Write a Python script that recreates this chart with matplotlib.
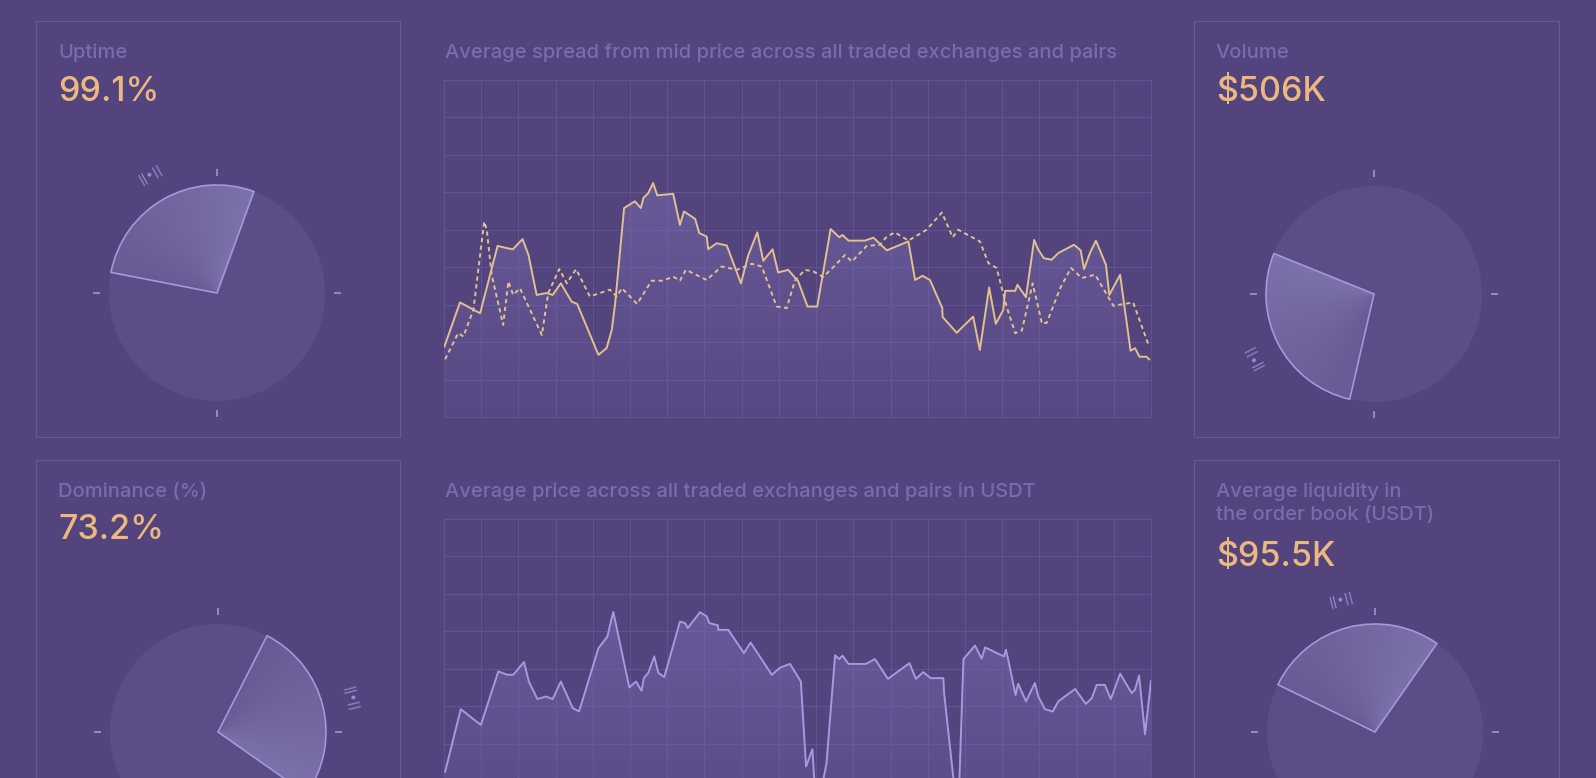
import numpy as np
import matplotlib
matplotlib.use('Agg')
import matplotlib.pyplot as plt
import matplotlib.colors as mcolors
from matplotlib.patches import Rectangle, Wedge, Circle

# ------------ DATA -------------- #
# kpi panels: top-left, top-right, bottom-left, bottom-right
panel_labels = ['Uptime', 'Volume', 'Dominance (%)', 'Average liquidity in\nthe order book (USDT)']
panel_values = ['99.1%', '$506K', '73.2%', '$95.5K']
gauge_start = [70, 158, -35, 55]     # degrees, counter clockwise from 3 o'clock
gauge_span = [99, 99, 98, 99]

spread_title = 'Average spread from mid price across all traded exchanges and pairs'
price_title = 'Average price across all traded exchanges and pairs in USDT'

# spread, solid series
spread_t = [0.01, 0.43, 0.97, 1.44, 1.69, 1.85, 2.11, 2.27, 2.49, 2.76,
            2.92, 3.14, 3.43, 3.58, 4.15, 4.37, 4.51, 4.60, 4.84, 5.13,
            5.29, 5.36, 5.49, 5.62, 5.73, 6.16, 6.34, 6.45, 6.75, 6.86,
            7.06, 7.10, 7.33, 7.60, 7.98, 8.18, 8.42, 8.58, 8.83, 8.98,
            9.25, 9.52, 9.77, 10.03, 10.39, 10.62, 10.71, 10.87, 11.31, 11.54,
            11.90, 12.48, 12.66, 12.86, 13.06, 13.39, 13.40, 13.78, 13.94, 14.22,
            14.40, 14.65, 14.83, 15.03, 15.08, 15.35, 15.41, 15.64, 15.86, 15.97,
            16.12, 16.33, 16.51, 16.93, 17.11, 17.20, 17.36, 17.52, 17.79, 17.88,
            18.17, 18.45, 18.57, 18.69, 18.88, 18.95]
spread = [1.88, 3.06, 2.77, 4.57, 4.51, 4.48, 4.75, 4.33, 3.26, 3.31,
          3.26, 3.57, 3.08, 3.02, 1.66, 1.84, 2.33, 3.04, 5.58, 5.76,
          5.58, 5.85, 5.98, 6.25, 5.92, 5.96, 5.13, 5.49, 5.29, 4.91,
          4.82, 4.48, 4.64, 4.58, 3.57, 4.33, 4.93, 4.17, 4.48, 3.86,
          3.93, 3.62, 2.95, 2.95, 5.02, 4.80, 4.86, 4.71, 4.71, 4.79,
          4.45, 4.69, 3.66, 3.77, 3.66, 2.91, 2.67, 2.25, 2.41, 2.68,
          1.79, 3.46, 2.49, 2.86, 3.37, 3.37, 3.53, 3.20, 4.73, 4.47,
          4.24, 4.20, 4.38, 4.60, 4.45, 3.95, 4.38, 4.71, 4.06, 3.26,
          3.80, 1.77, 1.84, 1.61, 1.61, 1.54]

# spread, dashed series
spread2_t = [0.03, 0.38, 0.52, 0.79, 1.08, 1.15, 1.28, 1.59, 1.73, 1.86,
             2.04, 2.63, 2.80, 3.10, 3.30, 3.55, 3.92, 4.46, 4.64, 4.78,
             5.19, 5.58, 5.89, 6.16, 6.34, 6.50, 7.06, 7.46, 7.87, 8.27,
             8.54, 8.94, 9.21, 9.43, 9.70, 9.92, 10.19, 10.46, 10.78, 10.96,
             11.36, 11.72, 11.90, 12.12, 12.48, 12.97, 13.38, 13.67, 13.82, 14.40,
             14.63, 14.85, 15.12, 15.35, 15.53, 15.82, 16.07, 16.20, 16.56, 16.85,
             17.14, 17.50, 17.99, 18.52, 18.95]
spread2 = [1.54, 2.24, 2.15, 2.86, 5.22, 5.00, 3.80, 2.46, 3.62, 3.26,
           3.44, 2.19, 3.31, 3.95, 3.57, 3.95, 3.22, 3.40, 3.22, 3.44,
           3.02, 3.64, 3.64, 3.75, 3.64, 3.93, 3.66, 4.02, 3.93, 4.09,
           4.02, 2.95, 2.91, 3.64, 3.93, 3.89, 3.74, 4.00, 4.33, 4.15,
           4.57, 4.60, 4.82, 4.93, 4.71, 5.00, 5.46, 4.80, 5.00, 4.69,
           4.11, 3.98, 2.95, 2.24, 2.31, 3.57, 2.49, 2.52, 3.44, 3.98,
           3.71, 3.80, 2.97, 3.06, 1.88]

# average price
price_t = [0.03, 0.45, 0.99, 1.46, 1.70, 1.86, 2.15, 2.28, 2.51, 2.74,
           2.92, 3.14, 3.46, 3.63, 4.15, 4.39, 4.55, 4.98, 5.16, 5.31,
           5.37, 5.49, 5.65, 5.76, 5.92, 6.34, 6.48, 6.55, 6.88, 7.06,
           7.13, 7.36, 7.37, 7.64, 8.06, 8.24, 8.81, 9.03, 9.30, 9.59,
           9.73, 9.90, 9.97, 10.15, 10.28, 10.51, 10.62, 10.71, 10.87, 11.34,
           11.58, 11.93, 12.51, 12.68, 12.88, 13.08, 13.42, 13.44, 13.73, 13.84,
           13.96, 14.27, 14.45, 14.54, 15.05, 15.10, 15.15, 15.36, 15.43, 15.64,
           15.88, 15.97, 16.15, 16.36, 16.51, 16.96, 17.25, 17.41, 17.54, 17.76,
           17.92, 18.17, 18.48, 18.57, 18.68, 18.84, 19.00]
price = [2.25, 3.92, 3.50, 4.93, 4.84, 4.84, 5.18, 4.66, 4.19, 4.26,
         4.19, 4.66, 3.95, 3.86, 5.55, 5.86, 6.52, 4.50, 4.66, 4.41,
         4.75, 4.89, 5.33, 4.89, 4.78, 6.26, 6.22, 6.09, 6.51, 6.40,
         6.22, 6.16, 6.04, 6.04, 5.42, 5.70, 4.84, 5.03, 5.13, 4.66,
         2.39, 2.85, 1.76, 1.82, 2.48, 5.36, 5.26, 5.35, 5.13, 5.13,
         5.26, 4.73, 5.15, 4.73, 4.91, 4.75, 4.75, 4.35, 1.71, 1.71,
         5.26, 5.62, 5.27, 5.57, 5.33, 5.51, 5.30, 4.30, 4.60, 4.13,
         4.62, 4.26, 3.92, 3.86, 4.13, 4.46, 4.06, 4.22, 4.57, 4.57,
         4.19, 4.87, 4.35, 4.44, 4.82, 3.25, 4.68]

# ------------ STYLE -------------- #
W, H = 1596, 778
BG = '#53447d'
BOX_EDGE = '#65589a'
GRID = '#5f5394'
LABEL = '#796cad'
VALUE = '#ebb980'
DISC = '#5b4e87'
TICK = '#9a8cd4'
WEDGE_EDGE = '#a697de'
SPREAD_C = '#e2c08f'
PRICE_C = '#a898e2'

plt.rcParams['font.family'] = ['Inter', 'DejaVu Sans']

fig = plt.figure(figsize=(W / 100, H / 100), dpi=100)
fig.patch.set_facecolor(BG)

# overlay axes in pixel units, y going up
ax0 = fig.add_axes([0, 0, 1, 1])
ax0.set_xlim(0, W)
ax0.set_ylim(0, H)
ax0.axis('off')


def Y(y):
    return H - y


# ---------- panels ------------ #
boxes = [(36, 21, 364, 416), (1194, 21, 365, 416), (36, 460, 364, 400), (1194, 460, 365, 400)]
label_pos = [(58, 58), (1216, 58), (58, 497), (1216, 497)]
value_base = [101, 101, 539, 566]
centers = [(217, 293), (1374, 294), (218, 732), (1375, 732)]
R = 108

for i in range(4):
    bx, by, bw, bh = boxes[i]
    ax0.add_patch(Rectangle((bx, Y(by + bh)), bw, bh, fill=False, edgecolor=BOX_EDGE, lw=0.8))
    lx, ly = label_pos[i]
    for k, line in enumerate(panel_labels[i].split('\n')):
        ax0.text(lx, Y(ly + 23.4 * k), line, color=LABEL, fontsize=14.5, fontweight='medium',
                 va='baseline', ha='left')
    ax0.text(lx, Y(value_base[i]), panel_values[i], color=VALUE, fontsize=24.5,
             fontweight='medium', va='baseline', ha='left')

    cx, cy = centers[i][0], Y(centers[i][1])
    ax0.add_patch(Circle((cx, cy), R, facecolor=DISC, edgecolor='none', zorder=2))

    # wedge with angular gradient (light at start -> dark at end)
    a0, span = gauge_start[i], gauge_span[i]
    wedge = Wedge((cx, cy), R, a0, a0 + span, facecolor='none', edgecolor='none', zorder=3)
    ax0.add_patch(wedge)
    gx, gy = np.meshgrid(np.linspace(-R, R, 200), np.linspace(R, -R, 200))
    ang = (np.degrees(np.arctan2(gy, gx)) - a0) % 360
    t = np.clip(ang / span, 0, 1)
    c1 = np.array(mcolors.to_rgb('#7d71a9'))
    c2 = np.array(mcolors.to_rgb('#685a93'))
    img = c1[None, None, :] * (1 - t[..., None]) + c2[None, None, :] * t[..., None]
    im = ax0.imshow(img, extent=[cx - R, cx + R, cy - R, cy + R], origin='upper', zorder=3,
                    interpolation='bilinear')
    im.set_clip_path(wedge)
    ax0.add_patch(Wedge((cx, cy), R, a0, a0 + span, facecolor='none', edgecolor=WEDGE_EDGE,
                        lw=1.2, zorder=4))

    # compass ticks
    for a in (0, 90, 180, 270):
        ca, sa = np.cos(np.radians(a)), np.sin(np.radians(a))
        ax0.plot([cx + 117 * ca, cx + 124 * ca], [cy + 117 * sa, cy + 124 * sa],
                 color=TICK, lw=1.3, solid_capstyle='butt', zorder=4)

    # little marker at the middle of the wedge
    mid = np.radians(a0 + span / 2)
    ax0.text(cx + 136 * np.cos(mid), cy + 136 * np.sin(mid), '||•||', color=TICK, fontsize=9.5,
             family='DejaVu Sans', rotation=np.degrees(mid) - 90, rotation_mode='anchor',
             ha='center', va='center', zorder=4)

ax0.set_xlim(0, W)
ax0.set_ylim(0, H)

# ---------- charts ------------ #
ax0.text(445, Y(58), spread_title, color=LABEL, fontsize=14.5, fontweight='medium',
         va='baseline', ha='left')
ax0.text(445, Y(497), price_title, color=LABEL, fontsize=14.5, fontweight='medium',
         va='baseline', ha='left')


def chart_axes(top):
    ax = fig.add_axes([444 / W, 1 - (top + 337) / H, 707 / W, 337 / H])
    ax.set_facecolor('none')
    ax.set_xlim(0, 19)
    ax.set_ylim(0, 9)
    ax.set_xticks(range(20))
    ax.set_yticks(range(10))
    ax.grid(True, color=GRID, lw=0.8)
    ax.tick_params(length=0, labelbottom=False, labelleft=False)
    for s in ax.spines.values():
        s.set_color(GRID)
        s.set_linewidth(0.8)
    ax.set_axisbelow(True)
    return ax


def gradient_fill(ax, x, y, color, a_top, a_bot):
    x = np.asarray(x)
    y = np.asarray(y)
    poly, = ax.fill(np.r_[x[0], x, x[-1]], np.r_[0, y, 0], facecolor='none', edgecolor='none')
    img = np.zeros((100, 1, 4))
    img[:, :, :3] = mcolors.to_rgb(color)
    img[:, 0, 3] = np.linspace(a_top, a_bot, 100)
    im = ax.imshow(img, aspect='auto', extent=[x.min(), x.max(), 0, y.max()], origin='upper',
                   zorder=1)
    im.set_clip_path(poly)


ax1 = chart_axes(80)
gradient_fill(ax1, spread_t, spread, '#7a6bb0', 0.55, 0.12)
ax1.plot(spread2_t, spread2, color=SPREAD_C, lw=1.4, ls=(0, (2.2, 1.8)), zorder=3)
ax1.plot(spread_t, spread, color=SPREAD_C, lw=1.4, zorder=4)
ax1.set_xlim(0, 19)
ax1.set_ylim(0, 9)

ax2 = chart_axes(519)
gradient_fill(ax2, price_t, price, '#7a6bb0', 0.55, 0.12)
ax2.plot(price_t, price, color=PRICE_C, lw=1.4, zorder=4)
ax2.set_xlim(0, 19)
ax2.set_ylim(0, 9)

fig.savefig('out.png', dpi=100, facecolor=BG)
